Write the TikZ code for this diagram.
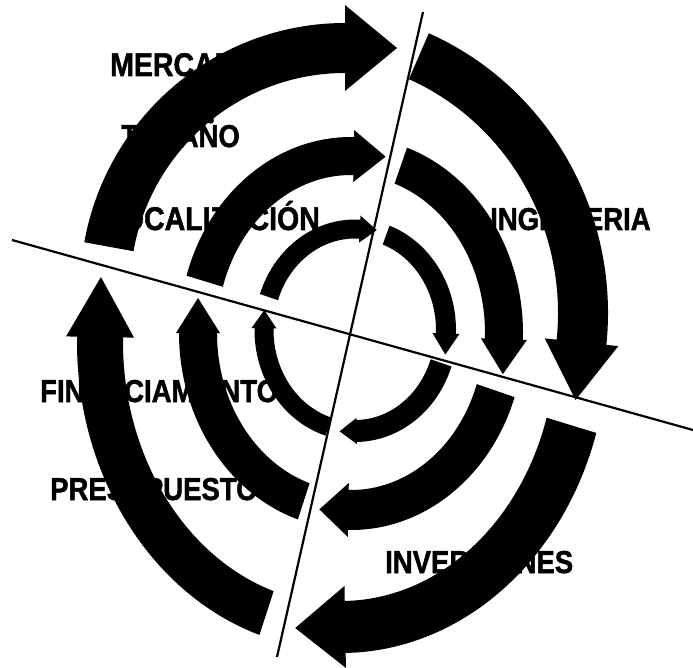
\documentclass[tikz,border=0pt]{standalone}
\usepackage{fontspec}
\setmainfont{Liberation Sans}
\newfontfamily\lblfont[FakeBold=1.6]{Liberation Sans Bold}
% #1 cx, #2 cy (pixels, y down), #3 rx, #4 ry, #5 half width, #6 half head width,
% #7 start angle, #8 head base angle, #9 head length
\newcommand\ringarrow[9]{%
  \pgfmathsetmacro\rao{#3+#5}\pgfmathsetmacro\rbo{#4+#5}%
  \pgfmathsetmacro\rai{#3-#5}\pgfmathsetmacro\rbi{#4-#5}%
  \pgfmathsetmacro\rah{#3+#6}\pgfmathsetmacro\rbh{#4+#6}%
  \pgfmathsetmacro\raj{#3-#6}\pgfmathsetmacro\rbj{#4-#6}%
  \pgfmathsetmacro\tnx{#3*sin(#8)/100}\pgfmathsetmacro\tny{-#4*cos(#8)/100}%
  \pgfmathsetmacro\tnn{sqrt(\tnx*\tnx+\tny*\tny)}%
  \pgfmathsetmacro\tipx{#3*cos(#8)+#9*\tnx/\tnn}%
  \pgfmathsetmacro\tipy{#4*sin(#8)+#9*\tny/\tnn}%
  \fill[arrowfill,shift={(#1,-#2)}]
    (#7:{\rao} and {\rbo}) arc[start angle=#7, end angle=#8, x radius=\rao, y radius=\rbo]
    -- (#8:{\rah} and {\rbh}) -- (\tipx,\tipy) -- (#8:{\raj} and {\rbj})
    -- (#8:{\rai} and {\rbi}) arc[start angle=#8, end angle=#7, x radius=\rai, y radius=\rbi]
    -- cycle;}
\tikzset{
  arrowfill/.style={fill=black},
  lbl/.style={font=\lblfont\fontsize{27.5}{30}\selectfont, inner sep=0pt, yscale=1.15},
  lblbig/.style={lbl, font=\lblfont\fontsize{28.5}{30}\selectfont},
  divider/.style={draw=black, line width=2.2pt}
}
\begin{document}
\begin{tikzpicture}[x=1pt,y=1pt]
\fill[white] (0,0) rectangle (693,-668);
\useasboundingbox (0,0) rectangle (693,-668);
% labels (partly hidden by arrows)
\node[lblbig, anchor=base west] (mercado) at (110,-76) {MERCADO};
\node[lbl, anchor=base west] (tamano) at (121,-147) {TAMAÑO};
\node[lblbig, anchor=base east] (localizacion) at (320,-230) {LOCALIZACIÓN};
\node[lbl, anchor=base west] (ingenieria) at (490,-230) {INGENIERIA};
\node[lbl, anchor=base west] (financiamiento) at (40,-402) {FINANCIAMIENTO};
\node[lbl, anchor=base west] (presupuesto) at (50,-500) {PRESUPUESTO};
\node[lbl, anchor=base west] (inversiones) at (385,-573) {INVERSIONES};
% outer ring
\ringarrow{345}{290}{240}{242}{25}{43}{169.7}{90}{52}
\ringarrow{310}{313}{273}{280}{25}{37}{66.5}{-6}{58}
\ringarrow{341}{342}{241}{285}{26}{41}{-17}{-89}{50}
\ringarrow{341}{342}{241}{285}{23}{34}{252}{179}{60}
% middle ring
\ringarrow{351}{333}{153}{177}{19}{26}{163}{89}{32}
\ringarrow{351}{333}{153}{177}{19}{23}{71}{-2}{35}
\ringarrow{351}{333}{153}{177}{20}{27}{-19}{-91}{29}
\ringarrow{351}{333}{153}{177}{19}{22}{252}{180}{35}
% inner ring
\ringarrow{355}{330}{91}{101}{9.5}{13.5}{161}{87}{17}
\ringarrow{355}{330}{91}{101}{10}{13.5}{70}{-2}{21}
\ringarrow{355}{330}{91}{101}{11}{13}{-19}{-89}{17}
\ringarrow{355}{330}{91}{101}{9.5}{12.5}{253}{179}{18}
% dividing lines
\coordinate (atop) at (423,-12);
\coordinate (abot) at (277,-657);
\coordinate (bleft) at (12,-240);
\coordinate (bright) at (693,-430);
\draw[divider] (atop) -- (abot);
\draw[divider] (bleft) -- (bright);
\end{tikzpicture}
\end{document}
